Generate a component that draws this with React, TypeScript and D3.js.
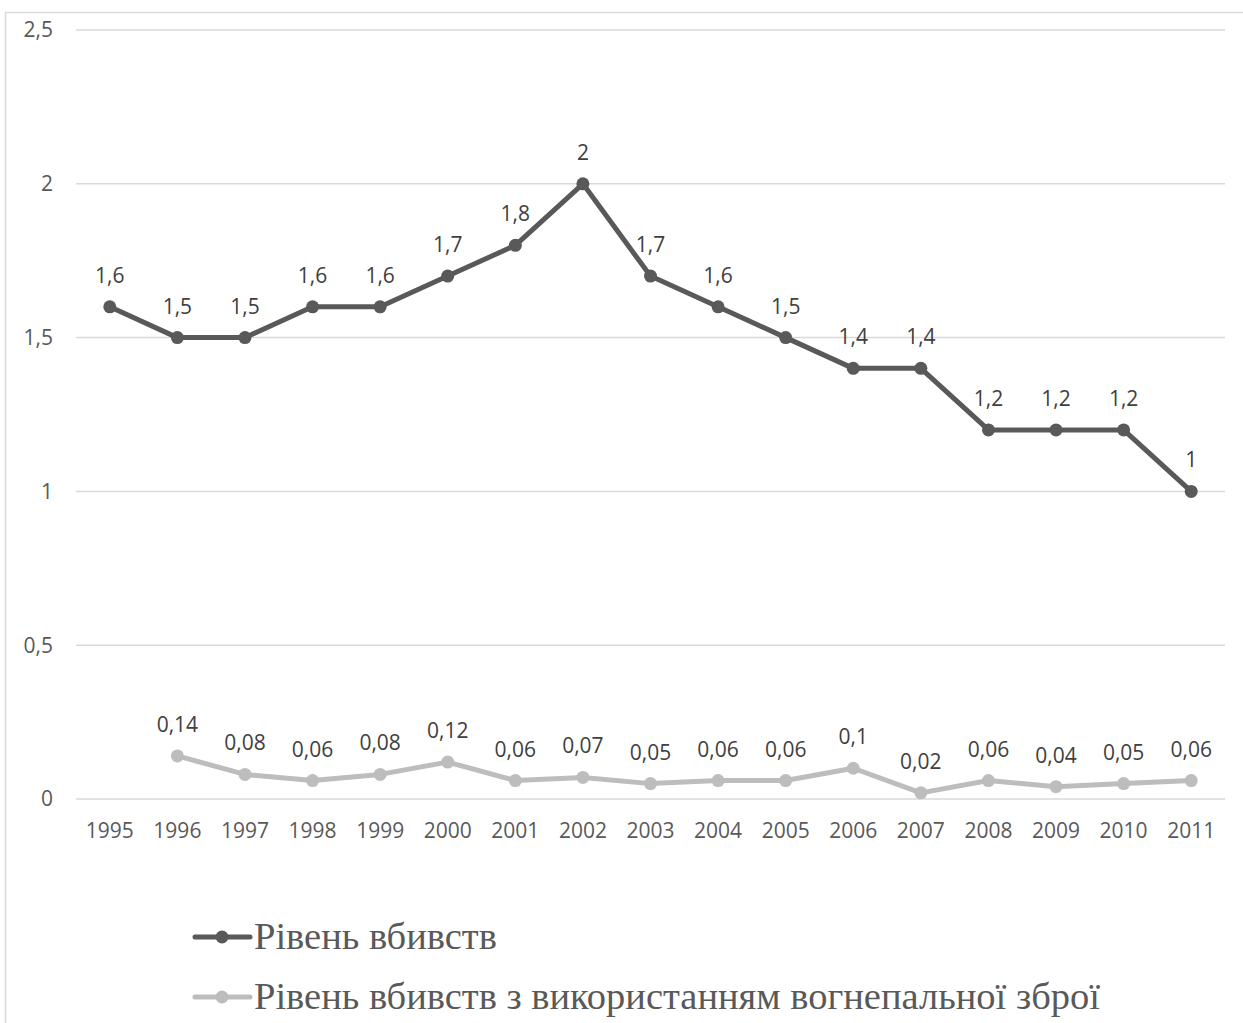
import React from "react";
import * as d3 from "d3";

const years = ["1995","1996","1997","1998","1999","2000","2001","2002","2003","2004","2005","2006","2007","2008","2009","2010","2011"];
const homicideRate: (number | null)[] = [1.6,1.5,1.5,1.6,1.6,1.7,1.8,2,1.7,1.6,1.5,1.4,1.4,1.2,1.2,1.2,1];
const firearmRate: (number | null)[] = [null,0.14,0.08,0.06,0.08,0.12,0.06,0.07,0.05,0.06,0.06,0.1,0.02,0.06,0.04,0.05,0.06];
const yTicks = [0,0.5,1,1.5,2,2.5];
const seriesNames = ["Рівень вбивств","Рівень вбивств з використанням вогнепальної зброї"];
const seriesColors = ["#595959","#bdbdbd"];

const W = 1243, H = 1023;
const fmt = (v: number) => String(v).replace(".", ",");

export default function App() {
  const x = d3.scaleBand<string>().domain(years).range([76, 1225]);
  const y = d3.scaleLinear().domain([0, 2.5]).range([799, 30]);
  const cx = (yr: string) => (x(yr) as number) + x.bandwidth() / 2;
  const series = [homicideRate, firearmRate];
  const line = d3.line<[string, number | null]>()
    .defined(d => d[1] != null)
    .x(d => cx(d[0]))
    .y(d => y(d[1] as number));
  const font = "'Open Sans', 'Liberation Sans', sans-serif";
  return (
    <svg width={W} height={H} style={{ position: "absolute", left: 0, top: 0, background: "#fff" }}>
      <rect x={5.5} y={12.5} width={W} height={H} fill="#fff" stroke="#d9d9d9" strokeWidth={1.5} />
      {yTicks.map(t => (
        <g key={t}>
          <line x1={76} x2={1225} y1={y(t)} y2={y(t)} stroke="#d9d9d9" strokeWidth={1.5} />
          <text x={53} y={y(t)} dy="0.35em" textAnchor="end" fontFamily={font} fontSize={21} fill="#595959">{fmt(t)}</text>
        </g>
      ))}
      {years.map(yr => (
        <text key={yr} x={cx(yr)} y={838} textAnchor="middle" fontFamily={font} fontSize={21} fill="#595959">{yr}</text>
      ))}
      {series.map((s, i) => {
        const pts = years.map((yr, j) => [yr, s[j]] as [string, number | null]);
        return (
          <g key={i}>
            <path d={line(pts) || ""} fill="none" stroke={seriesColors[i]} strokeWidth={5} strokeLinejoin="round" />
            {pts.filter(p => p[1] != null).map(p => (
              <g key={p[0]}>
                <circle cx={cx(p[0])} cy={y(p[1] as number)} r={6.5} fill={seriesColors[i]} />
                <text x={cx(p[0])} y={y(p[1] as number) - 24} textAnchor="middle" fontFamily={font} fontSize={21} fill="#404040">{fmt(p[1] as number)}</text>
              </g>
            ))}
          </g>
        );
      })}
      {seriesNames.map((n, i) => {
        const ly = 937 + i * 60;
        return (
          <g key={n}>
            <line x1={195} x2={250} y1={ly} y2={ly} stroke={seriesColors[i]} strokeWidth={5} strokeLinecap="round" />
            <circle cx={222} cy={ly} r={6.5} fill={seriesColors[i]} />
            <text x={254} y={ly + 12} fontFamily="'Liberation Serif', 'Times New Roman', serif" fontSize={38.5} fill="#595959">{n}</text>
          </g>
        );
      })}
    </svg>
  );
}
